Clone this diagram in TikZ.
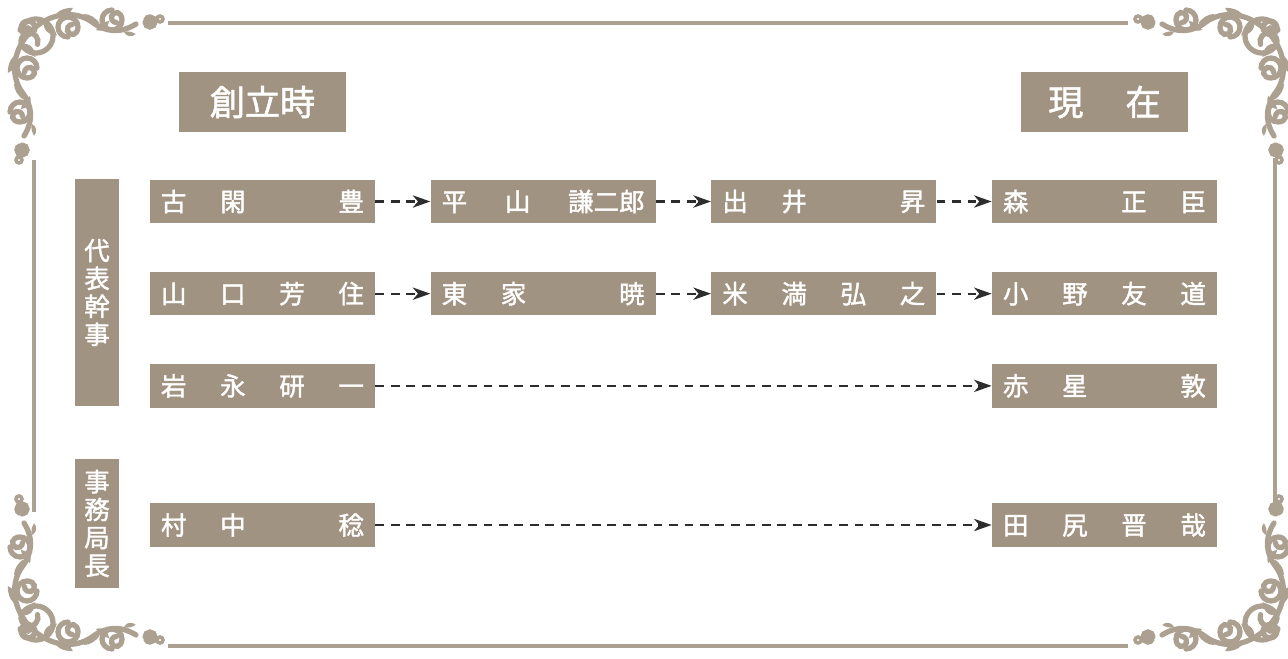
\documentclass[tikz,border=0pt]{standalone}
\usepackage{fontspec}
\setmainfont{Noto Sans CJK JP}[FakeBold=1.5]
\usetikzlibrary{arrows.meta,positioning}

\definecolor{taupe}{RGB}{161,147,130}
\definecolor{vinecol}{RGB}{172,160,145}
\definecolor{inkgray}{RGB}{45,45,45}

% names are spread over four even slots
\newcommand{\spread}[1]{\hbox to 4.06cm{#1}}
\newcommand{\gap}{\hfill\phantom{口}\hfill}

% curling stroke: centre, radius, start angle, sweep
\newcommand{\scroll}[4]{%
  \draw[vine line] (#1) ++(#3:#2) arc[start angle=#3, delta angle=#4, radius=#2]
    arc[start angle=#3+#4, delta angle=#4*0.8, radius=#2*0.5];}
% leaf: base, angle, length
\newcommand{\leaf}[3]{%
  \fill[vinecol, shift={(#1)}, rotate=#2] (0,0)
    .. controls (0.3*#3,0.4*#3) and (0.75*#3,0.3*#3) .. (#3,0)
    .. controls (0.7*#3,-0.12*#3) and (0.3*#3,-0.18*#3) .. (0,0);}
% one arm of a corner flourish, running along +x
\newcommand{\vinearm}{%
  \draw[vine line] (30,32) .. controls (50,12) and (75,10) .. (92,22)
    .. controls (105,32) and (120,34) .. (136,24);
  \scroll{68,27}{10}{90}{300}
  \scroll{112,20}{10}{-90}{-300}
  \leaf{44,20}{-50}{20}
  \leaf{56,14}{20}{18}
  \leaf{84,14}{-30}{18}
  \leaf{96,30}{35}{16}
  \leaf{124,32}{-10}{12}
  \scroll{150,22}{5}{180}{-300}
  \draw[vine line, line width=2pt] (160,19) circle[radius=3];
}

\tikzset{
  vine line/.style={draw=vinecol, line width=3pt, line cap=round},
  vine corner/.pic={
    \scroll{36,36}{17}{200}{300}
    \scroll{28,28}{7}{20}{-280}
    \vinearm
    \begin{scope}[yscale=-1, rotate=90]
      \vinearm
    \end{scope}
  },
}

\begin{document}
\begin{tikzpicture}[
  x=0.02cm, y=-0.02cm,
  name box/.style={
    fill=taupe,
    text=white,
    minimum width=4.5cm,
    minimum height=0.87cm,
    inner xsep=0.22cm,
    inner ysep=0pt,
    font=\fontsize{14.5}{16}\selectfont
  },
  head box/.style={
    fill=taupe,
    text=white,
    minimum width=3.34cm,
    minimum height=1.2cm,
    font=\fontsize{20}{22}\selectfont
  },
  side box/.style={
    fill=taupe,
    text=white,
    minimum width=0.88cm,
    inner sep=0pt,
    align=center,
    font=\fontsize{14.5}{15.9}\selectfont
  },
  link/.style={
    draw=inkgray,
    line width=1.3pt,
    dash pattern=on 5pt off 3.8pt,
    -{Stealth[length=10pt,width=7pt,inset=3pt]}
  },
  frame line/.style={
    draw=vinecol,
    line width=2.3pt
  },
  node distance=0.96cm and 1.1cm,
]
\useasboundingbox (0,0) rectangle (1288,659);

% frame
\draw[frame line] (168,23) -- (1128,23);
\draw[frame line] (168,646) -- (1128,646);
\draw[frame line] (34,160) -- (34,512);
\draw[frame line] (1275,158) -- (1275,513);
\pic at (0,0) {vine corner};
\pic[xscale=-1] at (1298,0) {vine corner};
\pic[yscale=-1] at (0,659) {vine corner};
\pic[xscale=-1,yscale=-1] at (1298,659) {vine corner};

% names
\node[name box] (r1c1) at (262.5,201.5) {\spread{古\hfill 閑\gap 豊}};
\node[name box, right=of r1c1] (r1c2) {\spread{平\hfill 山\hfill 謙二郎}};
\node[name box, right=of r1c2] (r1c3) {\spread{出\hfill 井\gap 昇}};
\node[name box, right=of r1c3] (r1c4) {\spread{森\gap 正\hfill 臣}};

\node[name box, below=of r1c1] (r2c1) {\spread{山\hfill 口\hfill 芳\hfill 住}};
\node[name box, right=of r2c1] (r2c2) {\spread{東\hfill 家\gap 暁}};
\node[name box, right=of r2c2] (r2c3) {\spread{米\hfill 満\hfill 弘\hfill 之}};
\node[name box, right=of r2c3] (r2c4) {\spread{小\hfill 野\hfill 友\hfill 道}};

\node[name box, below=of r2c1] (r3c1) {\spread{岩\hfill 永\hfill 研\hfill 一}};
\node[name box, below=of r2c4] (r3c4) {\spread{赤\hfill 星\gap 敦}};

\node[name box] (r4c1) at (262.5,525) {\spread{村\hfill 中\gap 稔}};
\node[name box] (r4c4) at (r1c4 |- r4c1) {\spread{田\hfill 尻\hfill 晋\hfill 哉}};

% headings
\node[head box, above=0.94cm of r1c1] (founding) {創立時};
\node[head box, above=0.94cm of r1c4] (present) {現\hspace{1.2em}在};

\node[side box, minimum height=4.54cm] (reps) at (97,292.5) {代\\表\\幹\\事};
\node[side box, minimum height=2.58cm] (office) at (97,523.5) {事\\務\\局\\長};

% successions
\foreach \r in {1,2}
  \foreach \a/\b in {1/2,2/3,3/4}
    \draw[link] (r\r c\a) -- (r\r c\b);
\draw[link] (r3c1) -- (r3c4);
\draw[link] (r4c1) -- (r4c4);
\end{tikzpicture}
\end{document}
